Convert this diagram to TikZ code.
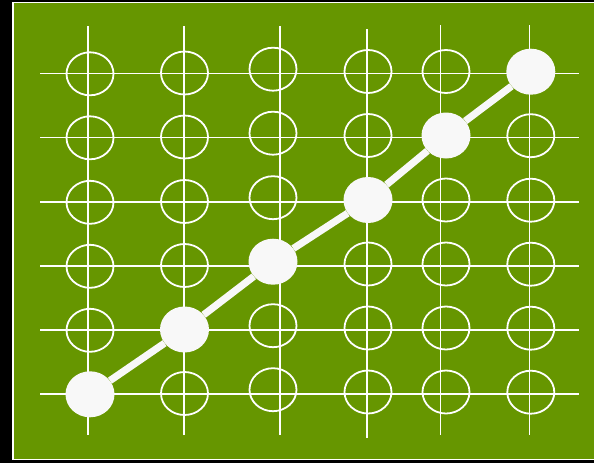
\documentclass[tikz,border=0pt]{standalone}
\usetikzlibrary{shapes.geometric}
\definecolor{fieldgreen}{RGB}{102,150,0}
\definecolor{dotwhite}{RGB}{248,248,248}
\begin{document}
\begin{tikzpicture}[x=1pt,y=-1pt,
  gridline/.style={draw=white,line width=1.8pt},
  ring/.style={ellipse,draw=white,line width=1.8pt,minimum width=47pt,minimum height=43pt,inner sep=0pt},
  stone/.style={ellipse,fill=dotwhite,minimum width=49pt,minimum height=46pt,inner sep=0pt},
  route/.style={draw=dotwhite,line width=7.2pt}]
\useasboundingbox (0,0) rectangle (594,463);
\clip (0,0) rectangle (594,463);
\fill[black] (0,0) rectangle (594,463);
\draw[fill=fieldgreen,draw=white,line width=1.5pt] (12.8,2.7) rectangle (600,459.7);
% horizontal grid lines
\foreach \y in {73.5,137.5,202,266,330,394}
  \draw[gridline] (40,\y) -- (578.7,\y);
% vertical grid lines
\foreach \x/\t/\b in {88.3/26/435, 184/26/435, 280/26/435, 367/29/438, 440.5/25/435, 529.5/25/435}
  \draw[gridline] (\x,\t) -- (\x,\b);
% open rings and filled stones
\foreach \c/\cx/\dy in {1/90/0.3, 2/184.5/-0.5, 3/273/-4.3, 4/368/-2, 5/446/-2, 6/530.8/-1.8}
  \foreach \r/\y in {1/73.5, 2/137.5, 3/202, 4/266, 5/330, 6/394} {
    \pgfmathtruncatemacro{\s}{\c+\r}
    \ifnum\s=7\relax
      \node[stone] (n\c\r) at (\cx,\y+\dy) {};
    \else
      \node[ring] (n\c\r) at (\cx,\y+\dy) {};
    \fi
  }
% route through the filled stones
\draw[route] (n16) -- (n25) -- (n34) -- (n43) -- (n52) -- (n61);
\end{tikzpicture}
\end{document}
